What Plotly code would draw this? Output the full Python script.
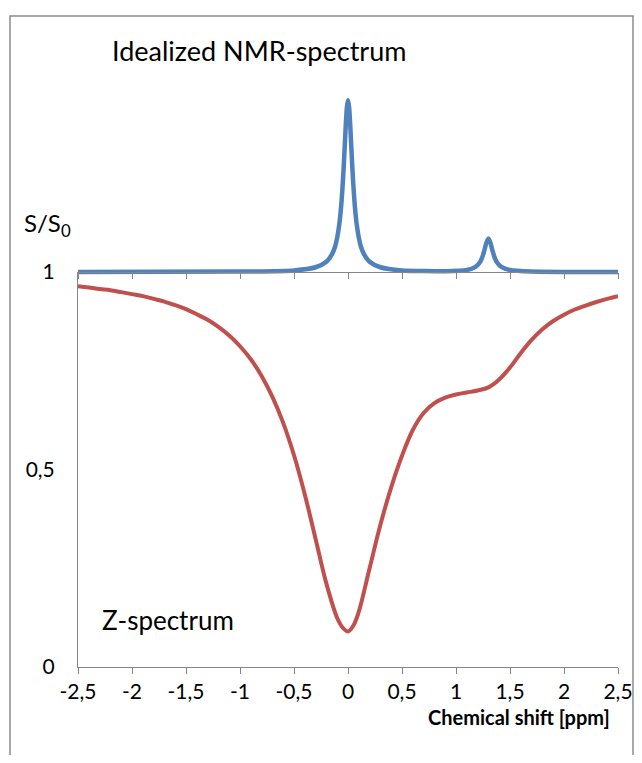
import plotly.graph_objects as go

# Z-spectrum (red)
z_x = [-2.5, -2.4, -2.3, -2.2, -2.1, -2.0, -1.9, -1.8, -1.7, -1.6, -1.5, -1.4, -1.3, -1.2,
       -1.1, -1.0, -0.9, -0.8, -0.7, -0.6, -0.5, -0.4, -0.3, -0.2, -0.1, -0.05, 0.0, 0.05,
       0.1, 0.2, 0.3, 0.4, 0.5, 0.6, 0.7, 0.8, 0.9, 1.0, 1.1, 1.2, 1.3, 1.4, 1.5, 1.6,
       1.7, 1.8, 1.9, 2.0, 2.1, 2.2, 2.3, 2.4, 2.5]
z_y = [0.964, 0.961, 0.957, 0.954, 0.949, 0.944, 0.939, 0.932, 0.925, 0.916, 0.906, 0.893,
       0.879, 0.861, 0.839, 0.812, 0.779, 0.737, 0.684, 0.618, 0.536, 0.437, 0.324, 0.211,
       0.124, 0.100, 0.090, 0.105, 0.140, 0.250, 0.360, 0.455, 0.535, 0.600, 0.643, 0.668,
       0.682, 0.690, 0.695, 0.700, 0.708, 0.728, 0.758, 0.795, 0.828, 0.855, 0.876, 0.892,
       0.905, 0.915, 0.924, 0.932, 0.939]

# Idealized NMR spectrum (blue)
nmr_x = [-2.5, -1.0, -0.5, -0.3, -0.2, -0.15, -0.12, -0.1, -0.08, -0.07, -0.06, -0.05,
         -0.04, -0.03, -0.02, -0.01, 0.0, 0.01, 0.02, 0.03, 0.04, 0.05, 0.06, 0.07, 0.08,
         0.1, 0.12, 0.15, 0.2, 0.3, 0.5, 0.9, 1.1, 1.18, 1.22, 1.24, 1.26, 1.28, 1.3,
         1.32, 1.34, 1.36, 1.38, 1.42, 1.5, 1.7, 2.0, 2.5]
nmr_y = [1.0, 1.001, 1.004, 1.012, 1.026, 1.044, 1.064, 1.087, 1.122, 1.147, 1.178, 1.218,
         1.265, 1.32, 1.375, 1.418, 1.435, 1.418, 1.375, 1.32, 1.265, 1.218, 1.178, 1.147,
         1.122, 1.087, 1.064, 1.044, 1.026, 1.012, 1.004, 1.002, 1.005, 1.013, 1.024,
         1.035, 1.052, 1.073, 1.085, 1.073, 1.052, 1.035, 1.024, 1.013, 1.005, 1.001,
         1.0, 1.0]

x_ticks = [-2.5, -2.0, -1.5, -1.0, -0.5, 0.0, 0.5, 1.0, 1.5, 2.0, 2.5]
x_ticklabels = ["-2,5", "-2", "-1,5", "-1", "-0,5", "0", "0,5", "1", "1,5", "2", "2,5"]
y_ticks = [0, 0.5, 1]
y_ticklabels = ["0", "0,5", "1"]

# page body has an 8px margin: figure is sized to fit the 642x763 window
W, H = 626, 747
L, R, T, B = 70, 16, 77, 88
plot_w = W - L - R
plot_h = H - T - B
unit_px = 395.0
d = unit_px / plot_h
y2_top = plot_h / unit_px

FONT = "Lato, 'Open Sans', sans-serif"
AX = "#868686"

fig = go.Figure()
fig.add_trace(go.Scatter(x=z_x, y=z_y, mode="lines", xaxis="x", yaxis="y",
                         line=dict(color="#C0504D", width=4, shape="spline", smoothing=1.0),
                         hoverinfo="skip", showlegend=False))
fig.add_trace(go.Scatter(x=nmr_x, y=nmr_y, mode="lines", xaxis="x2", yaxis="y2",
                         line=dict(color="#4F81BD", width=4.5, shape="spline", smoothing=0.6),
                         hoverinfo="skip", showlegend=False))

fig.update_layout(
    width=W, height=H,
    margin=dict(l=L, r=R, t=T, b=B, autoexpand=False),
    paper_bgcolor="white", plot_bgcolor="rgba(0,0,0,0)",
    font=dict(family=FONT, size=21, color="#000000"),
    showlegend=False,
    xaxis=dict(range=[-2.5, 2.5], domain=[0, 1], anchor="y",
               tickvals=x_ticks, ticktext=x_ticklabels,
               ticks="outside", ticklen=6, tickcolor=AX, tickwidth=1,
               showline=True, linecolor=AX, linewidth=1,
               showgrid=False, zeroline=False, ticklabelstandoff=0,
               tickfont=dict(size=21)),
    yaxis=dict(range=[0, 1], domain=[0, d], anchor="x",
               tickvals=y_ticks, ticktext=y_ticklabels,
               ticks="", showline=True, linecolor=AX, linewidth=1,
               showgrid=False, zeroline=False, ticklabelstandoff=18,
               tickfont=dict(size=21)),
    xaxis2=dict(range=[-2.5, 2.5], domain=[0, 1], anchor="free", position=d,
                side="bottom", tickvals=x_ticks, showticklabels=False,
                ticks="outside", ticklen=6, tickcolor=AX, tickwidth=1,
                showline=True, linecolor=AX, linewidth=1,
                showgrid=False, zeroline=False),
    yaxis2=dict(range=[0, y2_top], domain=[0, 1], anchor="x2", visible=False),
)

fig.add_annotation(text="Idealized NMR-spectrum", xref="paper", yref="paper",
                   x=(102 - L) / plot_w, y=1, xanchor="left", yanchor="middle", yshift=35,
                   showarrow=False, font=dict(size=27, family=FONT, color="#000000"))
fig.add_annotation(text="Z-spectrum", xref="x", yref="y", x=-2.296, y=0.119,
                   xanchor="left", yanchor="middle", showarrow=False,
                   font=dict(size=26, family=FONT, color="#000000"))
fig.add_annotation(text="S/S<sub>0</sub>", xref="paper", yref="y2",
                   x=(14 - L) / plot_w, y=1.12, xanchor="left", yanchor="middle",
                   showarrow=False, font=dict(size=24, family=FONT, color="#000000"))
fig.add_annotation(text="<b>Chemical shift [ppm]</b>", xref="paper", yref="paper",
                   x=(604 - L) / plot_w, y=0, xanchor="right", yanchor="middle", yshift=-50,
                   showarrow=False, font=dict(size=20, family=FONT, color="#000000"))

# outer chart-area frame
fig.add_shape(type="rect", xref="paper", yref="paper",
              x0=(2 - L) / plot_w, x1=(625 - L) / plot_w,
              y0=-0.3, y1=(H - B - 8) / plot_h,
              line=dict(color="#8C8C8C", width=1.5), fillcolor="rgba(0,0,0,0)", layer="below")

fig.write_html("out.html")
